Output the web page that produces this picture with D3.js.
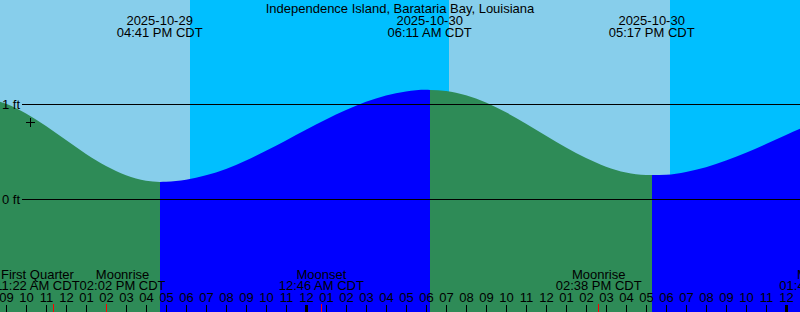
<!DOCTYPE html>
<html>
<head>
<meta charset="utf-8">
<script src="https://cdn.jsdelivr.net/npm/d3@7"></script>
<style>
  body { margin: 0; background: #fff; }
  svg { display: block; font-family: "Liberation Sans", Arial, sans-serif; font-size: 13px; }
</style>
</head>
<body>
<svg width="800" height="312"></svg>
<script>
const TITLE = "Independence Island, Barataria Bay, Louisiana";
const VIEW_START = "2025-10-29 08:42";
const VIEW_END = "2025-10-31 00:42";

// hourly tide heights (ft), first one at 08:00 Oct 29
const sample_start = "2025-10-29 08:00";
const heights = [1.064, 1.002, 0.900, 0.768, 0.621, 0.475, 0.347, 0.249, 0.191,
  0.181, 0.203, 0.249, 0.317, 0.405, 0.507, 0.616, 0.729, 0.838, 0.937, 1.023,
  1.089, 1.132, 1.149, 1.138, 1.092, 1.015, 0.912, 0.793, 0.666, 0.542, 0.431,
  0.340, 0.279, 0.252, 0.256, 0.285, 0.335, 0.404, 0.487, 0.579, 0.673, 0.765, 0.847];

// high / low water
const extreme_times = ["2025-10-29 07:12", "2025-10-29 16:41", "2025-10-30 06:11",
  "2025-10-30 17:17", "2025-10-31 05:42"];
const extreme_levels = [1.08, 0.18, 1.15, 0.25, 1.00];

// sunset / sunrise, and the sky after each
const sun_times = ["2025-10-29 18:12", "2025-10-30 07:09", "2025-10-30 18:12"];
const sun_after = ["night", "day", "night"];

const moon_names = ["First Quarter", "Moonrise", "Moonset", "Moonrise", "Moonset"];
const moon_times = ["2025-10-29 11:22", "2025-10-29 14:02", "2025-10-30 00:46",
  "2025-10-30 14:38", "2025-10-31 01:48"];

const level_ticks = [0, 1];
const level_labels = ["0 ft", "1 ft"];

const mark_time = "2025-10-29 10:12";
const mark_level = 0.81;

const W = 800, H = 312;
const DAY = "#87ceeb", NIGHT = "#00bfff";
const FALL = "#2e8b57", RISE = "#0000ff";

const parse = d3.utcParse("%Y-%m-%d %H:%M");
const fmt_date = d3.utcFormat("%Y-%m-%d");
const fmt_clock = d3.utcFormat("%I:%M %p");
const fmt_time = (d) => fmt_clock(d) + " CDT";

const svg = d3.select("svg");
const x = d3.scaleUtc().domain([parse(VIEW_START), parse(VIEW_END)]).range([0, W]);
const y = d3.scaleLinear().domain([0, 1]).range([199, 104]);

// sky
var bounds = [parse(VIEW_START)].concat(sun_times.map(parse), [parse(VIEW_END)]);
var states = ["day"].concat(sun_after);
svg.append("g")
  .selectAll("rect")
  .data(states)
  .join("rect")
  .attr("x", (d, i) => Math.round(x(bounds[i])))
  .attr("width", (d, i) => Math.round(x(bounds[i + 1])) - Math.round(x(bounds[i])))
  .attr("y", 0)
  .attr("height", H)
  .attr("fill", (d) => (d == "day" ? DAY : NIGHT));

// tide curve
var t0 = parse(sample_start);
var tide = heights.map((h, i) => ({ t: d3.utcHour.offset(t0, i), v: h }));
var ext = extreme_times.map((s, i) => ({ t: parse(s), v: extreme_levels[i] }));
ext.forEach((e) => {
  if (e.t > tide[0].t && e.t < tide[tide.length - 1].t) tide.push(e);
});
tide.sort((a, b) => a.t - b.t);

var area = d3.area()
  .x((d) => x(d.t))
  .y0(H)
  .y1((d) => y(d.v))
  .curve(d3.curveMonotoneX);

var defs = svg.append("defs");
for (let i = 0; i < ext.length - 1; i++) {
  var x1 = Math.round(x(ext[i].t)), x2 = Math.round(x(ext[i + 1].t));
  defs.append("clipPath").attr("id", "seg" + i)
    .append("rect").attr("x", x1).attr("y", 0).attr("width", x2 - x1).attr("height", H);
  svg.append("path")
    .datum(tide)
    .attr("d", area)
    .attr("clip-path", "url(#seg" + i + ")")
    .attr("fill", ext[i + 1].v > ext[i].v ? RISE : FALL);
}

// level lines
svg.append("g")
  .selectAll("line")
  .data(level_ticks)
  .join("line")
  .attr("x1", 22)
  .attr("x2", W)
  .attr("y1", (d) => Math.round(y(d)) + 0.5)
  .attr("y2", (d) => Math.round(y(d)) + 0.5)
  .attr("stroke", "black");
svg.append("g")
  .selectAll("text")
  .data(level_ticks)
  .join("text")
  .attr("x", 20)
  .attr("y", (d) => y(d) + 4.5)
  .attr("text-anchor", "end")
  .text((d, i) => level_labels[i]);

// marker
var mx = Math.round(x(parse(mark_time))) + 0.5, my = Math.round(y(mark_level)) + 0.5;
svg.append("path")
  .attr("d", "M" + (mx - 4.5) + "," + my + "H" + (mx + 4.5) + "M" + mx + "," + (my - 4.5) + "V" + (my + 4.5))
  .attr("stroke", "black")
  .attr("fill", "none");

// title
svg.append("text")
  .attr("x", W / 2)
  .attr("y", 12.5)
  .attr("text-anchor", "middle")
  .text(TITLE);

// extreme labels
var shown = ext.filter((e) => x(e.t) >= 0 && x(e.t) <= W);
var top_lab = svg.append("g")
  .selectAll("text")
  .data(shown)
  .join("text")
  .attr("text-anchor", "middle");
top_lab.append("tspan").attr("x", (d) => x(d.t)).attr("y", 24.5).text((d) => fmt_date(d.t));
top_lab.append("tspan").attr("x", (d) => x(d.t)).attr("y", 36.5).text((d) => fmt_time(d.t));

// hour axis
var hour_axis = d3.axisTop(x)
  .ticks(d3.utcHour.every(1))
  .tickFormat(d3.utcFormat("%I"))
  .tickSize(7)
  .tickPadding(3.5);
var gx = svg.append("g")
  .attr("transform", "translate(0," + H + ")")
  .call(hour_axis)
  .attr("font-family", null)
  .attr("font-size", null);
gx.select(".domain").remove();
gx.selectAll(".tick text").attr("fill", "black");
gx.selectAll(".tick line")
  .attr("stroke", "black")
  .attr("stroke-width", (d) => (d.getUTCHours() == 0 ? 3 : 1));

// moon events
var moon = moon_times.map((s, i) => ({ t: parse(s), name: moon_names[i] }));
var mg = svg.append("g")
  .selectAll("g")
  .data(moon)
  .join("g");
mg.append("text").attr("class", "n").attr("y", 278.5).attr("text-anchor", "middle").text((d) => d.name);
mg.append("text").attr("class", "t").attr("y", 290).attr("text-anchor", "middle").text((d) => fmt_time(d.t));
mg.each(function (d) {
  var g = d3.select(this);
  d.w = Math.max(g.select(".n").node().getComputedTextLength(), g.select(".t").node().getComputedTextLength());
  d.cx = x(d.t);
});
for (let i = 0; i < moon.length - 1; i++) {
  var over = moon[i].cx + moon[i].w / 2 - (moon[i + 1].cx - moon[i + 1].w / 2);
  if (over > 0) {
    moon[i].cx -= over / 2;
    moon[i + 1].cx += over / 2;
  }
}
mg.selectAll("text").attr("x", function () { return d3.select(this.parentNode).datum().cx; });

svg.append("g")
  .selectAll("line")
  .data(moon)
  .join("line")
  .attr("x1", (d) => Math.floor(x(d.t)) + 0.5)
  .attr("x2", (d) => Math.floor(x(d.t)) + 0.5)
  .attr("y1", 304)
  .attr("y2", H)
  .attr("stroke", "red");
</script>
</body>
</html>
